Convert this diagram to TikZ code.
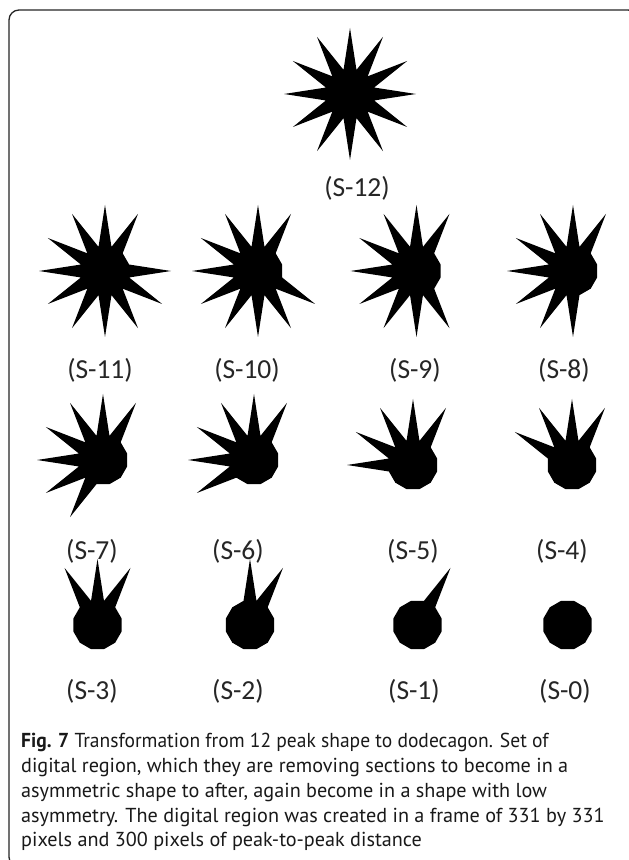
\documentclass[tikz,border=0pt]{standalone}
\usepackage{fontspec}
\usepackage{graphicx}
\setmainfont{PT Sans}
\newfontfamily\labelfont{Carlito}
\usetikzlibrary{calc}
\newcommand\peakfig[3]{%
  \coordinate (#1) at #2;
  \fill[black] ($(#1)+(-15:25)$)
    \foreach \f [count=\k from 0] in {#3} {
      -- ($(#1)+({30*\k}:{24.148+41.852*\f})$) -- ($(#1)+({30*\k+15}:25)$)
    } -- cycle;
}
\begin{document}
\begin{tikzpicture}[x=1pt,y=1pt,
  lbl/.style={font=\labelfont\fontsize{27.5}{30}\selectfont, anchor=base, inner sep=0pt, text=black!85},
  capline/.style={font=\fontsize{20.2}{24}\selectfont, anchor=base west, inner sep=0pt, text=black!90}]
\useasboundingbox (0,0) rectangle (629,860);
\clip (0,0) rectangle (629,860);
\fill[white] (0,0) rectangle (629,860);
\draw[line width=1.3pt, black!85, rounded corners=10pt] (9,-7) rectangle (638,850);
% shapes
\peakfig{s12}{(350,766)}{1,1,1,1,1,1,1,1,1,1,1,1}
\peakfig{s11}{(105,589)}{1,0,1,1,1,1,1,1,1,1,1,1}
\peakfig{s10}{(258,589)}{0,0,1,1,1,1,1,1,1,1,1,1}
\peakfig{s9}{(416.5,589)}{0,0,1,1,1,1,1,1,1,1,1,0}
\peakfig{s8}{(573,589)}{0,0,1,1,1,1,1,1,1,1,0,0}
\peakfig{s7}{(103,400)}{0,0,1,1,1,1,1,1,1,0,0,0}
\peakfig{s6}{(254,400)}{0,0,1,1,1,1,1,1,0,0,0,0}
\peakfig{s5}{(413,395)}{0,0,1,1,1,1,1,0,0,0,0,0}
\peakfig{s4}{(572,395)}{0,0,1,1,1,1,0,0,0,0,0,0}
\peakfig{s3}{(97.5,235)}{0,0,1,1,1,0,0,0,0,0,0,0}
\peakfig{s2}{(250,235)}{0,0,1,1,0,0,0,0,0,0,0,0}
\peakfig{s1}{(417.5,235)}{0,0,1,0,0,0,0,0,0,0,0,0}
\peakfig{s0}{(567.5,235)}{0,0,0,0,0,0,0,0,0,0,0,0}
% labels
\node[lbl] (l12) at (357,663) {(S-12)};
\node[lbl] (l11) at (100,481) {(S-11)};
\node[lbl] (l10) at (247,481) {(S-10)};
\node[lbl] (l9) at (415,481) {(S-9)};
\node[lbl] (l8) at (564,481) {(S-8)};
\node[lbl] (l7) at (92,300) {(S-7)};
\node[lbl] (l6) at (238,300) {(S-6)};
\node[lbl] (l5) at (413,300) {(S-5)};
\node[lbl] (l4) at (562,300) {(S-4)};
\node[lbl] (l3) at (92,160) {(S-3)};
\node[lbl] (l2) at (238,160) {(S-2)};
\node[lbl] (l1) at (414,160) {(S-1)};
\node[lbl] (l0) at (565,160) {(S-0)};
% caption
\node[capline] (c1) at (21,112) {\scalebox{0.967}[1]{\textbf{Fig. 7} Transformation from 12 peak shape to dodecagon. Set of}};
\node[capline] (c2) at (21,87) {digital region, which they are removing sections to become in a};
\node[capline] (c3) at (21,62) {asymmetric shape to after, again become in a shape with low};
\node[capline] (c4) at (21,37) {asymmetry. The digital region was created in a frame of 331 by 331};
\node[capline] (c5) at (21,13) {pixels and 300 pixels of peak-to-peak distance};
\end{tikzpicture}
\end{document}
